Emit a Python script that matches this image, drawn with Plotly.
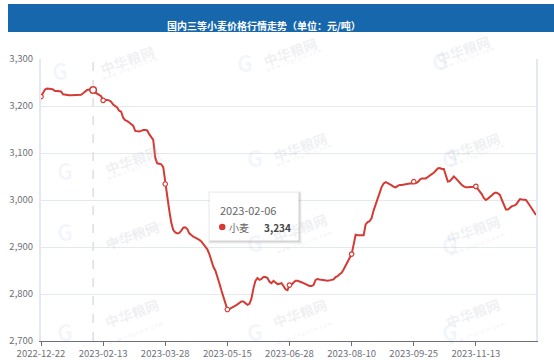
import plotly.graph_objects as go

# ---------------- data ----------------
title_text = "国内三等小麦价格行情走势（单位：元/吨）"
series_name = "小麦"
tick_labels = ["2022-12-22", "2023-02-13", "2023-03-28", "2023-05-15",
               "2023-06-28", "2023-08-10", "2023-09-25", "2023-11-13"]
tick_step = 31          # categories between labelled ticks
hover_date = "2023-02-06"
hover_index = 26

prices = [
    3220, 3228, 3235, 3237, 3237, 3236, 3235, 3232, 3232, 3231,
    3231, 3225, 3224, 3224, 3223, 3223, 3223, 3223, 3223, 3223,
    3224, 3227, 3230, 3234, 3235, 3235, 3234, 3229, 3226, 3224,
    3221, 3212, 3213, 3213, 3212, 3209, 3203, 3200, 3197, 3190,
    3188, 3175, 3170, 3168, 3165, 3162, 3158, 3147, 3146, 3146,
    3147, 3149, 3149, 3148, 3140, 3134, 3128, 3090, 3078, 3077,
    3076, 3070, 3034, 3008, 2978, 2952, 2936, 2931, 2929, 2930,
    2935, 2941, 2942, 2938, 2929, 2925, 2922, 2920, 2918, 2915,
    2912, 2906, 2901, 2895, 2885, 2870, 2858, 2850, 2838, 2823,
    2808, 2795, 2780, 2767, 2768, 2770, 2772, 2775, 2778, 2782,
    2784, 2784, 2780, 2777, 2779, 2790, 2812, 2828, 2834, 2830,
    2832, 2836, 2836, 2834, 2826, 2823, 2828, 2824, 2821, 2822,
    2823, 2817, 2810, 2808, 2819, 2820, 2825, 2828, 2828, 2827,
    2825, 2823, 2821, 2819, 2817, 2817, 2819, 2830, 2832, 2831,
    2830, 2829, 2828, 2828, 2829, 2830, 2831, 2836, 2838, 2842,
    2845, 2852, 2860, 2868, 2876, 2885, 2905, 2926, 2925, 2925,
    2924, 2925, 2948, 2953, 2955, 2962, 2978, 2990, 3003, 3015,
    3028, 3035, 3038, 3036, 3034, 3031, 3028, 3027, 3030, 3032,
    3032, 3033, 3034, 3034, 3035, 3035, 3039, 3036, 3038, 3043,
    3046, 3046, 3046, 3049, 3053, 3055, 3058, 3063, 3067, 3068,
    3066, 3066, 3050, 3039, 3040, 3046, 3050, 3046, 3041, 3036,
    3032, 3029, 3027, 3027, 3027, 3027, 3028, 3029, 3024, 3018,
    3012, 3004, 3000, 3003, 3006, 3010, 3014, 3016, 3014, 3011,
    3000, 2990, 2980, 2980, 2984, 2987, 2988, 2990, 2996, 3002,
    3001, 3001, 3000, 2994, 2987, 2980, 2973, 2968,
]

# ---------------- styles ----------------
RED = "#d43b35"
AXIS = "#6e7079"
GRID = "#e3e8f1"
FONT = "Noto Sans CJK SC"
L, R, T, B = 41, 18, 59, 19
W, H = 554, 360
PW, PH = W - L - R, H - T - B

def pxx(v):
    return (v - L) / PW

def pxy(v):
    return (H - B - v) / PH

idx = list(range(len(prices)))
tick_idx = idx[::tick_step][:len(tick_labels)]

fig = go.Figure()

# watermarks (faint)
wm_pos = [(95, 38), (290, 30), (495, 28),
          (100, 138), (300, 125), (505, 125),
          (100, 235), (300, 228), (505, 230),
          (100, 335), (300, 335), (505, 335)]
for (px, py) in wm_pos:
    fig.add_annotation(xref="paper", yref="paper", x=pxx(px), y=pxy(py),
                       text="<b>中华粮网</b>", showarrow=False, textangle=-20,
                       font=dict(family=FONT, size=14, color="rgba(185,190,200,0.22)"))
    fig.add_annotation(xref="paper", yref="paper", x=pxx(px + 4), y=pxy(py + 14),
                       text="w w w . c n g r a i n . c o m", showarrow=False, textangle=-20,
                       font=dict(family=FONT, size=5, color="rgba(185,190,200,0.28)"))
    fig.add_annotation(xref="paper", yref="paper", x=pxx(px - 45), y=pxy(py + 14),
                       text="<b>G</b>", showarrow=False,
                       font=dict(family=FONT, size=22, color="rgba(120,160,220,0.09)"))

fig.add_trace(go.Scatter(
    x=idx, y=prices, mode="lines", name=series_name,
    line=dict(color=RED, width=2), hoverinfo="skip", showlegend=False))

fig.add_trace(go.Scatter(
    x=tick_idx, y=[prices[i] for i in tick_idx], mode="markers",
    marker=dict(size=4.5, color="white", line=dict(color=RED, width=1.2)),
    hoverinfo="skip", showlegend=False))

fig.add_trace(go.Scatter(
    x=[hover_index], y=[prices[hover_index]], mode="markers",
    marker=dict(size=6.5, color="white", line=dict(color=RED, width=1.5)),
    hoverinfo="skip", showlegend=False))

# axis pointer
fig.add_shape(type="line", xref="x", yref="paper", x0=hover_index, x1=hover_index,
              y0=0, y1=1, line=dict(color="#c8ccd4", width=1, dash="dash"), layer="below")

# title bar
fig.add_shape(type="rect", xref="paper", yref="paper",
              x0=pxx(8), x1=pxx(560), y0=pxy(32), y1=pxy(4),
              fillcolor="#1767ad", line=dict(width=0))
fig.add_annotation(xref="paper", yref="paper", x=pxx(264), y=pxy(16),
                   text="<b>" + title_text + "</b>", showarrow=False,
                   font=dict(family=FONT, size=10, color="white"))

# tooltip box with soft shadow
for k, a in [(3, 0.04), (2, 0.06), (1, 0.08)]:
    fig.add_shape(type="rect", xref="paper", yref="paper",
                  x0=pxx(210 - k + 1), x1=pxx(298 + k + 1), y0=pxy(240 + k + 1), y1=pxy(193 - k + 1),
                  fillcolor="rgba(0,0,0,%s)" % a, line=dict(width=0))
fig.add_shape(type="rect", xref="paper", yref="paper",
              x0=pxx(210), x1=pxx(298), y0=pxy(240), y1=pxy(193),
              fillcolor="white", line=dict(color="#ffffff", width=1))
fig.add_annotation(xref="paper", yref="paper", x=pxx(218), y=pxy(210), xanchor="left",
                   text=hover_date, showarrow=False,
                   font=dict(family=FONT, size=11, color="#666666"))
fig.add_shape(type="circle", xref="paper", yref="paper",
              x0=pxx(219), x1=pxx(225.5), y0=pxy(230.3), y1=pxy(223.8),
              fillcolor=RED, line=dict(width=0))
fig.add_annotation(xref="paper", yref="paper", x=pxx(228), y=pxy(227), xanchor="left",
                   text=series_name, showarrow=False, borderpad=0,
                   font=dict(family=FONT, size=10, color="#666666"))
fig.add_annotation(xref="paper", yref="paper", x=pxx(292), y=pxy(227), xanchor="right",
                   text="<b>{:,}</b>".format(prices[hover_index]), showarrow=False, borderpad=0,
                   font=dict(family=FONT, size=10, color="#464646"))

fig.update_layout(
    width=W, height=H, autosize=False,
    margin=dict(l=L, r=R, t=T, b=B, autoexpand=False),
    paper_bgcolor="white", plot_bgcolor="white",
    font=dict(family=FONT, color=AXIS, size=9),
    showlegend=False,
)
fig.update_xaxes(
    range=[0, len(prices) - 1], tickmode="array", tickvals=tick_idx, ticktext=tick_labels,
    showgrid=False, zeroline=False, showline=True, linecolor=AXIS, linewidth=1,
    ticks="outside", ticklen=4, tickcolor=AXIS, tickfont=dict(size=9.5, color=AXIS),
    automargin=False,
)
fig.update_yaxes(
    range=[2700, 3300], dtick=100, tickformat=",", showgrid=True, gridcolor=GRID,
    zeroline=False, showline=True, linecolor=GRID, linewidth=2, mirror=True,
    ticks="", tickfont=dict(size=9.5, color=AXIS), ticklabelstandoff=4,
    automargin=False,
)

fig.write_html("out.html", config={"displayModeBar": False},
               post_script="document.body.style.margin='0';document.body.style.padding='0';")
